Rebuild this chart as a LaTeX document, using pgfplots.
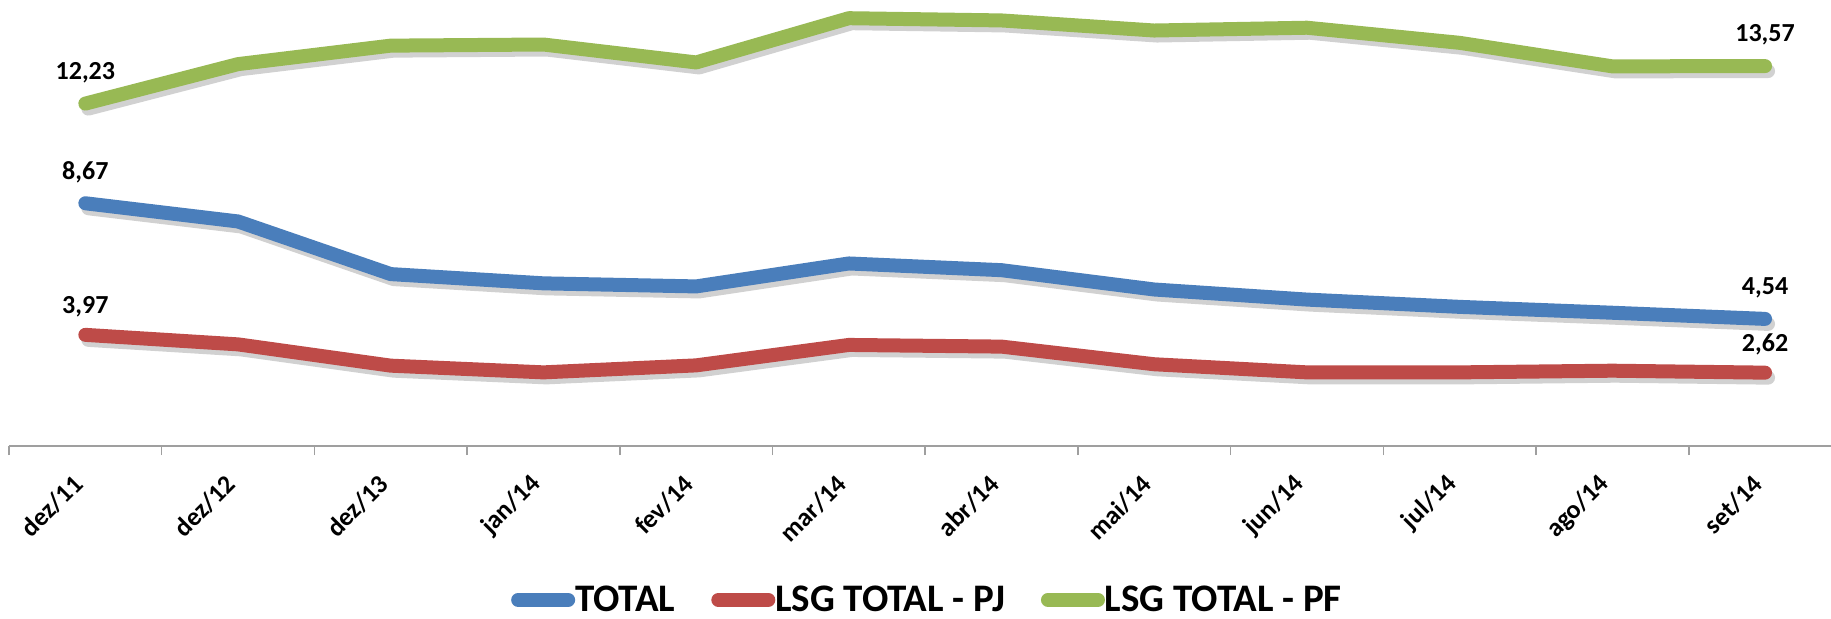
\documentclass[border=0pt]{standalone}
\usepackage{fontspec}
\setmainfont{Carlito}
\usepackage{pgfplots}
\pgfplotsset{compat=1.18}

\definecolor{cblue}{HTML}{4A7EBB}
\definecolor{cred}{HTML}{BE4B48}
\definecolor{cgreen}{HTML}{98B954}

\begin{document}
\begin{tikzpicture}
\begin{axis}[
    scale only axis,
    width=911pt, height=223pt,
    xmin=-0.5, xmax=11.432,
    ymin=0, ymax=15.93,
    axis x line*=bottom,
    axis y line=none,
    axis line style={draw=gray!75, line width=1pt},
    xtick={0,...,11},
    xticklabels={dez/11,dez/12,dez/13,jan/14,fev/14,mar/14,abr/14,mai/14,jun/14,jul/14,ago/14,set/14},
    major tick length=0pt,
    minor xtick={-0.5,0.5,...,10.5},
    minor tick length=4.5pt,
    tick align=outside,
    minor tick style={draw=gray!75, line width=0.8pt},
    xticklabel style={font=\bfseries\fontsize{13}{15}\selectfont, xshift=-1pt, yshift=-14.5pt, rotate=45, anchor=east},
    clip=false,
    nodes near coords,
    point meta=explicit symbolic,
    every node near coord/.style={font=\bfseries\fontsize{13}{15}\selectfont, anchor=center, yshift=15.5pt, text=black},
    legend columns=3,
    legend style={
        at={(axis description cs:0.5036,-0.345)}, anchor=center,
        draw=none, fill=none,
        font=\bfseries\fontsize{19.5}{21}\selectfont,
        inner sep=0pt,
        nodes={inner sep=0pt},
        /tikz/every odd column/.append style={column sep=0pt},
        /tikz/every even column/.append style={column sep=18pt},
    },
    legend image code/.code={\draw[#1, line width=7pt, line cap=round] (3.5pt,0pt) -- (28.5pt,0pt);},
]
% shadows
\addplot[black, opacity=0.18, line width=7pt, line cap=round, line join=round, xshift=1.5pt, yshift=-2.5pt, forget plot, nodes near coords=] coordinates {
    (0,8.67) (1,8.02) (2,6.14) (3,5.81) (4,5.70) (5,6.52) (6,6.28) (7,5.59) (8,5.23) (9,4.97) (10,4.76) (11,4.54)
};
\addplot[black, opacity=0.18, line width=7pt, line cap=round, line join=round, xshift=1.5pt, yshift=-2.5pt, forget plot, nodes near coords=] coordinates {
    (0,3.97) (1,3.63) (2,2.87) (3,2.63) (4,2.88) (5,3.61) (6,3.55) (7,2.92) (8,2.63) (9,2.63) (10,2.69) (11,2.62)
};
\addplot[black, opacity=0.18, line width=7pt, line cap=round, line join=round, xshift=1.5pt, yshift=-2.5pt, forget plot, nodes near coords=] coordinates {
    (0,12.23) (1,13.64) (2,14.30) (3,14.34) (4,13.70) (5,15.28) (6,15.20) (7,14.84) (8,14.94) (9,14.40) (10,13.56) (11,13.57)
};

% TOTAL
\addplot[cblue, line width=7pt, line cap=round, line join=round] coordinates {
    (0,8.67) [8,67] (1,8.02) [] (2,6.14) [] (3,5.81) [] (4,5.70) [] (5,6.52) []
    (6,6.28) [] (7,5.59) [] (8,5.23) [] (9,4.97) [] (10,4.76) [] (11,4.54) [4,54]
};
\addlegendentry{TOTAL}

% LSG TOTAL - PJ
\addplot[cred, line width=7pt, line cap=round, line join=round,
    every node near coord/.append style={yshift=-1.5pt}] coordinates {
    (0,3.97) [3,97] (1,3.63) [] (2,2.87) [] (3,2.63) [] (4,2.88) [] (5,3.61) []
    (6,3.55) [] (7,2.92) [] (8,2.63) [] (9,2.63) [] (10,2.69) [] (11,2.62) [2,62]
};
\addlegendentry{LSG TOTAL - PJ}

% LSG TOTAL - PF
\addplot[cgreen, line width=7pt, line cap=round, line join=round] coordinates {
    (0,12.23) [12,23] (1,13.64) [] (2,14.30) [] (3,14.34) [] (4,13.70) [] (5,15.28) []
    (6,15.20) [] (7,14.84) [] (8,14.94) [] (9,14.40) [] (10,13.56) [] (11,13.57) [13,57]
};
\addlegendentry{LSG TOTAL - PF}
\end{axis}
\pgfresetboundingbox
\path[use as bounding box] (-4.5pt,-86pt) rectangle (911pt,223pt);
\end{tikzpicture}
\end{document}
